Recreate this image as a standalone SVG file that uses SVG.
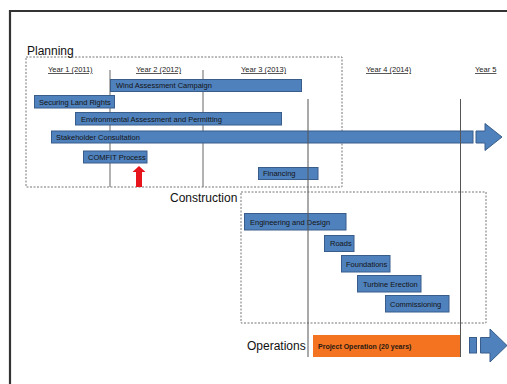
<svg xmlns="http://www.w3.org/2000/svg" width="507" height="384" viewBox="0 0 507 384">
<style>
.bar{fill:#4F81BD;stroke:#385D8A;stroke-width:1}
.bt{font-family:"Liberation Sans",Arial,sans-serif;font-size:7.5px;fill:#141414}
.yr{font-family:"Liberation Sans",Arial,sans-serif;font-size:7.5px;fill:#222;text-decoration:underline}
.ph{font-family:"Liberation Sans",Arial,sans-serif;font-size:12px;fill:#111}
.box{fill:none;stroke:#777;stroke-width:1;stroke-dasharray:2 1.5}
.g1{stroke:#999;stroke-width:1.5}
.g2{stroke:#555;stroke-width:1}
</style>
<rect width="507" height="384" fill="#fff"/>
<path d="M10,390 V11 H520" fill="none" stroke="#333" stroke-width="2.2"/>

<g id="grid-back">
<line class="g1" x1="110" y1="70" x2="110" y2="187"/>
<line class="g1" x1="203" y1="70" x2="203" y2="187"/>
</g>

<g id="planning">
<rect class="box" x="26" y="57" width="316" height="130"/>
<text class="ph" x="27" y="55">Planning</text>
</g>
<g id="construction">
<rect class="box" x="241" y="192" width="245" height="131"/>
<text class="ph" x="170" y="202">Construction</text>
</g>
<g id="operations-label">
<text class="ph" x="247" y="350">Operations</text>
</g>

<g id="years">
<text class="yr" x="48" y="72">Year 1 (2011)</text>
<text class="yr" x="136" y="72">Year 2 (2012)</text>
<text class="yr" x="241" y="72">Year 3 (2013)</text>
<text class="yr" x="366" y="72">Year 4 (2014)</text>
<text class="yr" x="475" y="72">Year 5</text>
</g>

<g id="wind"><rect class="bar" x="110.5" y="79.5" width="191" height="12"/><text class="bt" x="116" y="88.3">Wind Assessment Campaign</text></g>
<g id="land"><rect class="bar" x="34.5" y="95.5" width="80" height="12.5"/><text class="bt" x="39" y="104.5">Securing Land Rights</text></g>
<g id="env"><rect class="bar" x="75.5" y="112.5" width="206" height="12.5"/><text class="bt" x="81" y="121.5">Environmental Assessment and Permitting</text></g>
<g id="stakeholder"><rect class="bar" x="51.5" y="131" width="421.5" height="12"/><text class="bt" x="56" y="139.8">Stakeholder Consultation</text>
<path class="bar" d="M476,131 H485 V123.5 L502,137 L485,150.5 V143 H476 Z"/></g>
<g id="comfit"><rect class="bar" x="83.5" y="151" width="63.5" height="12"/><text class="bt" x="88" y="159.8">COMFIT Process</text></g>
<g id="financing"><rect class="bar" x="258.5" y="167.5" width="59.5" height="12"/><text class="bt" x="263" y="176.3">Financing</text></g>

<g id="engineering"><rect class="bar" x="244.5" y="213.5" width="101.5" height="16.5"/><text class="bt" x="250" y="224.5">Engineering and Design</text></g>
<g id="roads"><rect class="bar" x="324.5" y="235.5" width="29.5" height="16"/><text class="bt" x="330" y="246.3">Roads</text></g>
<g id="foundations"><rect class="bar" x="341.5" y="255.5" width="48.5" height="16.5"/><text class="bt" x="346" y="266.5">Foundations</text></g>
<g id="turbine"><rect class="bar" x="357.5" y="275.5" width="63.5" height="16.5"/><text class="bt" x="363" y="286.5">Turbine Erection</text></g>
<g id="commissioning"><rect class="bar" x="385.5" y="295.5" width="63.5" height="16.5"/><text class="bt" x="390" y="306.5">Commissioning</text></g>

<g id="operation">
<rect x="313" y="335" width="147" height="22" fill="#F37321"/>
<text x="318" y="349" font-family="Liberation Sans,Arial,sans-serif" font-size="7px" font-weight="bold" fill="#2a1a10">Project Operation (20 years)</text>
<rect class="bar" x="469.5" y="337.5" width="7" height="15.5"/>
<path class="bar" d="M480.5,337.5 H490 V329 L507,345.5 L490,362 V353 H480.5 Z"/>
</g>

<g id="connectors">
<path d="M136,187 V172 H132.5 L139,166 L145.5,172 H142 V187 Z" fill="#E8141B"/>
<line class="g2" x1="308" y1="99" x2="308" y2="357"/>
<line class="g2" x1="460.5" y1="99" x2="460.5" y2="357"/>
</g>
</svg>
